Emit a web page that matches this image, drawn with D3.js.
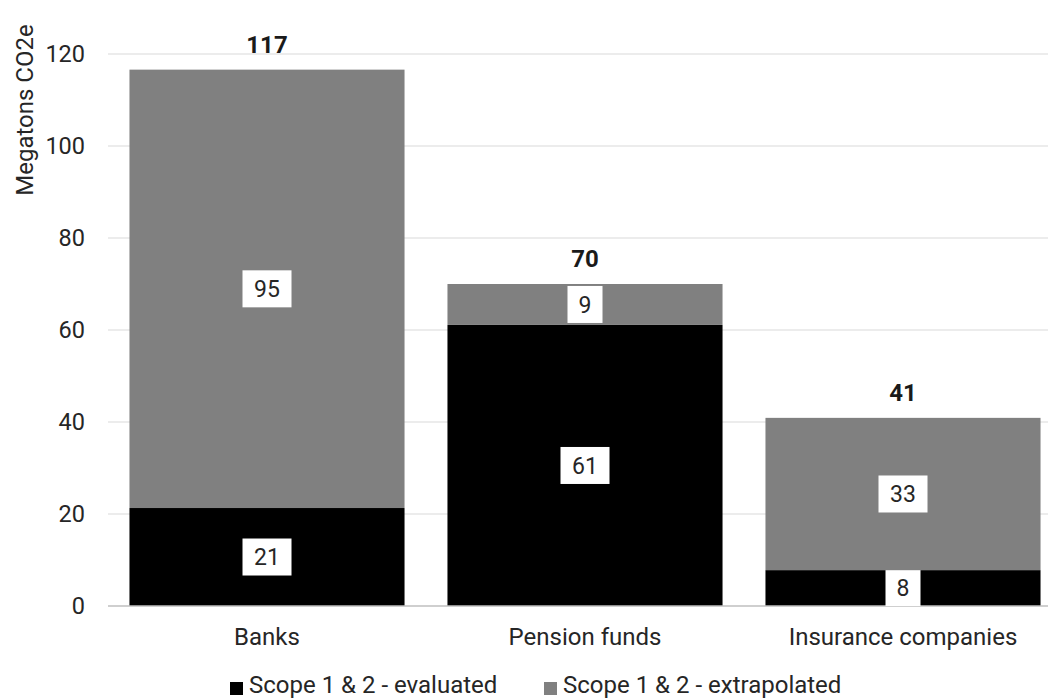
<!DOCTYPE html>
<html>
<head>
<meta charset="utf-8">
<script src="https://cdn.jsdelivr.net/npm/d3@7"></script>
<style>
  body { margin: 0; background: #fff; }
  svg { display: block; font-family: Roboto, "Noto Sans", sans-serif; }
</style>
</head>
<body>
<svg id="chart"></svg>
<script>
// data
var categories = ["Banks", "Pension funds", "Insurance companies"];
var evaluated = [21.3, 61.1, 7.8];
var extrapolated = [95.3, 8.9, 33.1];
var yTicks = [0, 20, 40, 60, 80, 100, 120];
var seriesNames = ["Scope 1 & 2 - evaluated", "Scope 1 & 2 - extrapolated"];
var seriesColours = ["#000000", "#808080"];

var width = 1048, height = 699;
var svg = d3.select("#chart").attr("width", width).attr("height", height);

// scales
var x = d3.scaleBand()
    .domain(categories)
    .range([108, 1062])
    .paddingInner(0.135)
    .paddingOuter(0.0675);
var y = d3.scaleLinear()
    .domain([0, 120])
    .range([606, 54]);

var fmt = d3.format(".0f");

// gridlines
svg.append("g")
    .selectAll("line")
    .data(yTicks.filter(d => d > 0))
    .enter().append("line")
    .attr("x1", 108).attr("x2", width)
    .attr("y1", d => y(d)).attr("y2", d => y(d))
    .attr("stroke", "#d9d9d9")
    .attr("stroke-width", 1);

// y axis labels
var yAxis = svg.append("g")
    .attr("transform", "translate(108,0)")
    .call(d3.axisLeft(y).tickValues(yTicks).tickSize(0).tickPadding(23));
yAxis.select(".domain").remove();
yAxis.selectAll("text")
    .style("font-size", "23.5px")
    .style("font-family", "Roboto, sans-serif")
    .attr("fill", "#262626");

// stacked bars
var rows = categories.map(function (c, i) {
    return { cat: c, evaluated: evaluated[i], extrapolated: extrapolated[i] };
});
var stack = d3.stack().keys(["evaluated", "extrapolated"])(rows);

var layers = svg.append("g")
    .selectAll("g")
    .data(stack)
    .enter().append("g")
    .attr("fill", (d, i) => seriesColours[i]);

layers.selectAll("rect")
    .data(d => d)
    .enter().append("rect")
    .attr("x", d => x(d.data.cat))
    .attr("width", x.bandwidth())
    .attr("y", d => y(d[1]))
    .attr("height", d => y(d[0]) - y(d[1]));

// zero line
svg.append("line")
    .attr("x1", 108).attr("x2", width)
    .attr("y1", y(0)).attr("y2", y(0))
    .attr("stroke", "#bfbfbf")
    .attr("stroke-width", 1.5);

// segment value labels in white boxes
stack.forEach(function (layer) {
    layer.forEach(function (d) {
        var label = fmt(d[1] - d[0]);
        var cx = x(d.data.cat) + x.bandwidth() / 2;
        var cy = (y(d[0]) + y(d[1])) / 2;
        var bw = label.length > 1 ? 49 : 35;
        var bh = 37;
        var top = Math.max(cy - bh / 2, y(d[1]));
        var bottom = Math.min(cy + bh / 2, y(d[0]));
        svg.append("rect")
            .attr("x", cx - bw / 2)
            .attr("y", top)
            .attr("width", bw)
            .attr("height", bottom - top)
            .attr("fill", "#fff");
        svg.append("text")
            .attr("x", cx)
            .attr("y", (top + bottom) / 2)
            .attr("dy", "0.36em")
            .attr("text-anchor", "middle")
            .style("font-size", "23px")
            .attr("fill", "#262626")
            .text(label);
    });
});

// totals above bars
svg.append("g")
    .selectAll("text")
    .data(rows)
    .enter().append("text")
    .attr("x", d => x(d.cat) + x.bandwidth() / 2)
    .attr("y", d => y(d.evaluated + d.extrapolated) - 17)
    .attr("text-anchor", "middle")
    .style("font-size", "24px")
    .style("font-weight", "bold")
    .attr("fill", "#1a1a1a")
    .text(d => fmt(d.evaluated + d.extrapolated));

// category labels
svg.append("g")
    .selectAll("text")
    .data(categories)
    .enter().append("text")
    .attr("x", d => x(d) + x.bandwidth() / 2)
    .attr("y", 645)
    .attr("text-anchor", "middle")
    .style("font-size", "24px")
    .attr("fill", "#262626")
    .text(d => d);

// y axis title
svg.append("text")
    .attr("transform", "translate(33,110) rotate(-90)")
    .attr("text-anchor", "middle")
    .style("font-size", "24px")
    .attr("fill", "#262626")
    .text("Megatons CO2e");

// legend
var legendX = [230, 544];
var legend = svg.append("g");
legend.selectAll("rect")
    .data(seriesNames)
    .enter().append("rect")
    .attr("x", (d, i) => legendX[i])
    .attr("y", 682)
    .attr("width", 13)
    .attr("height", 13)
    .attr("fill", (d, i) => seriesColours[i]);
legend.selectAll("text")
    .data(seriesNames)
    .enter().append("text")
    .attr("x", (d, i) => legendX[i] + 19)
    .attr("y", 693)
    .style("font-size", "24px")
    .attr("fill", "#262626")
    .text(d => d);
</script>
</body>
</html>
